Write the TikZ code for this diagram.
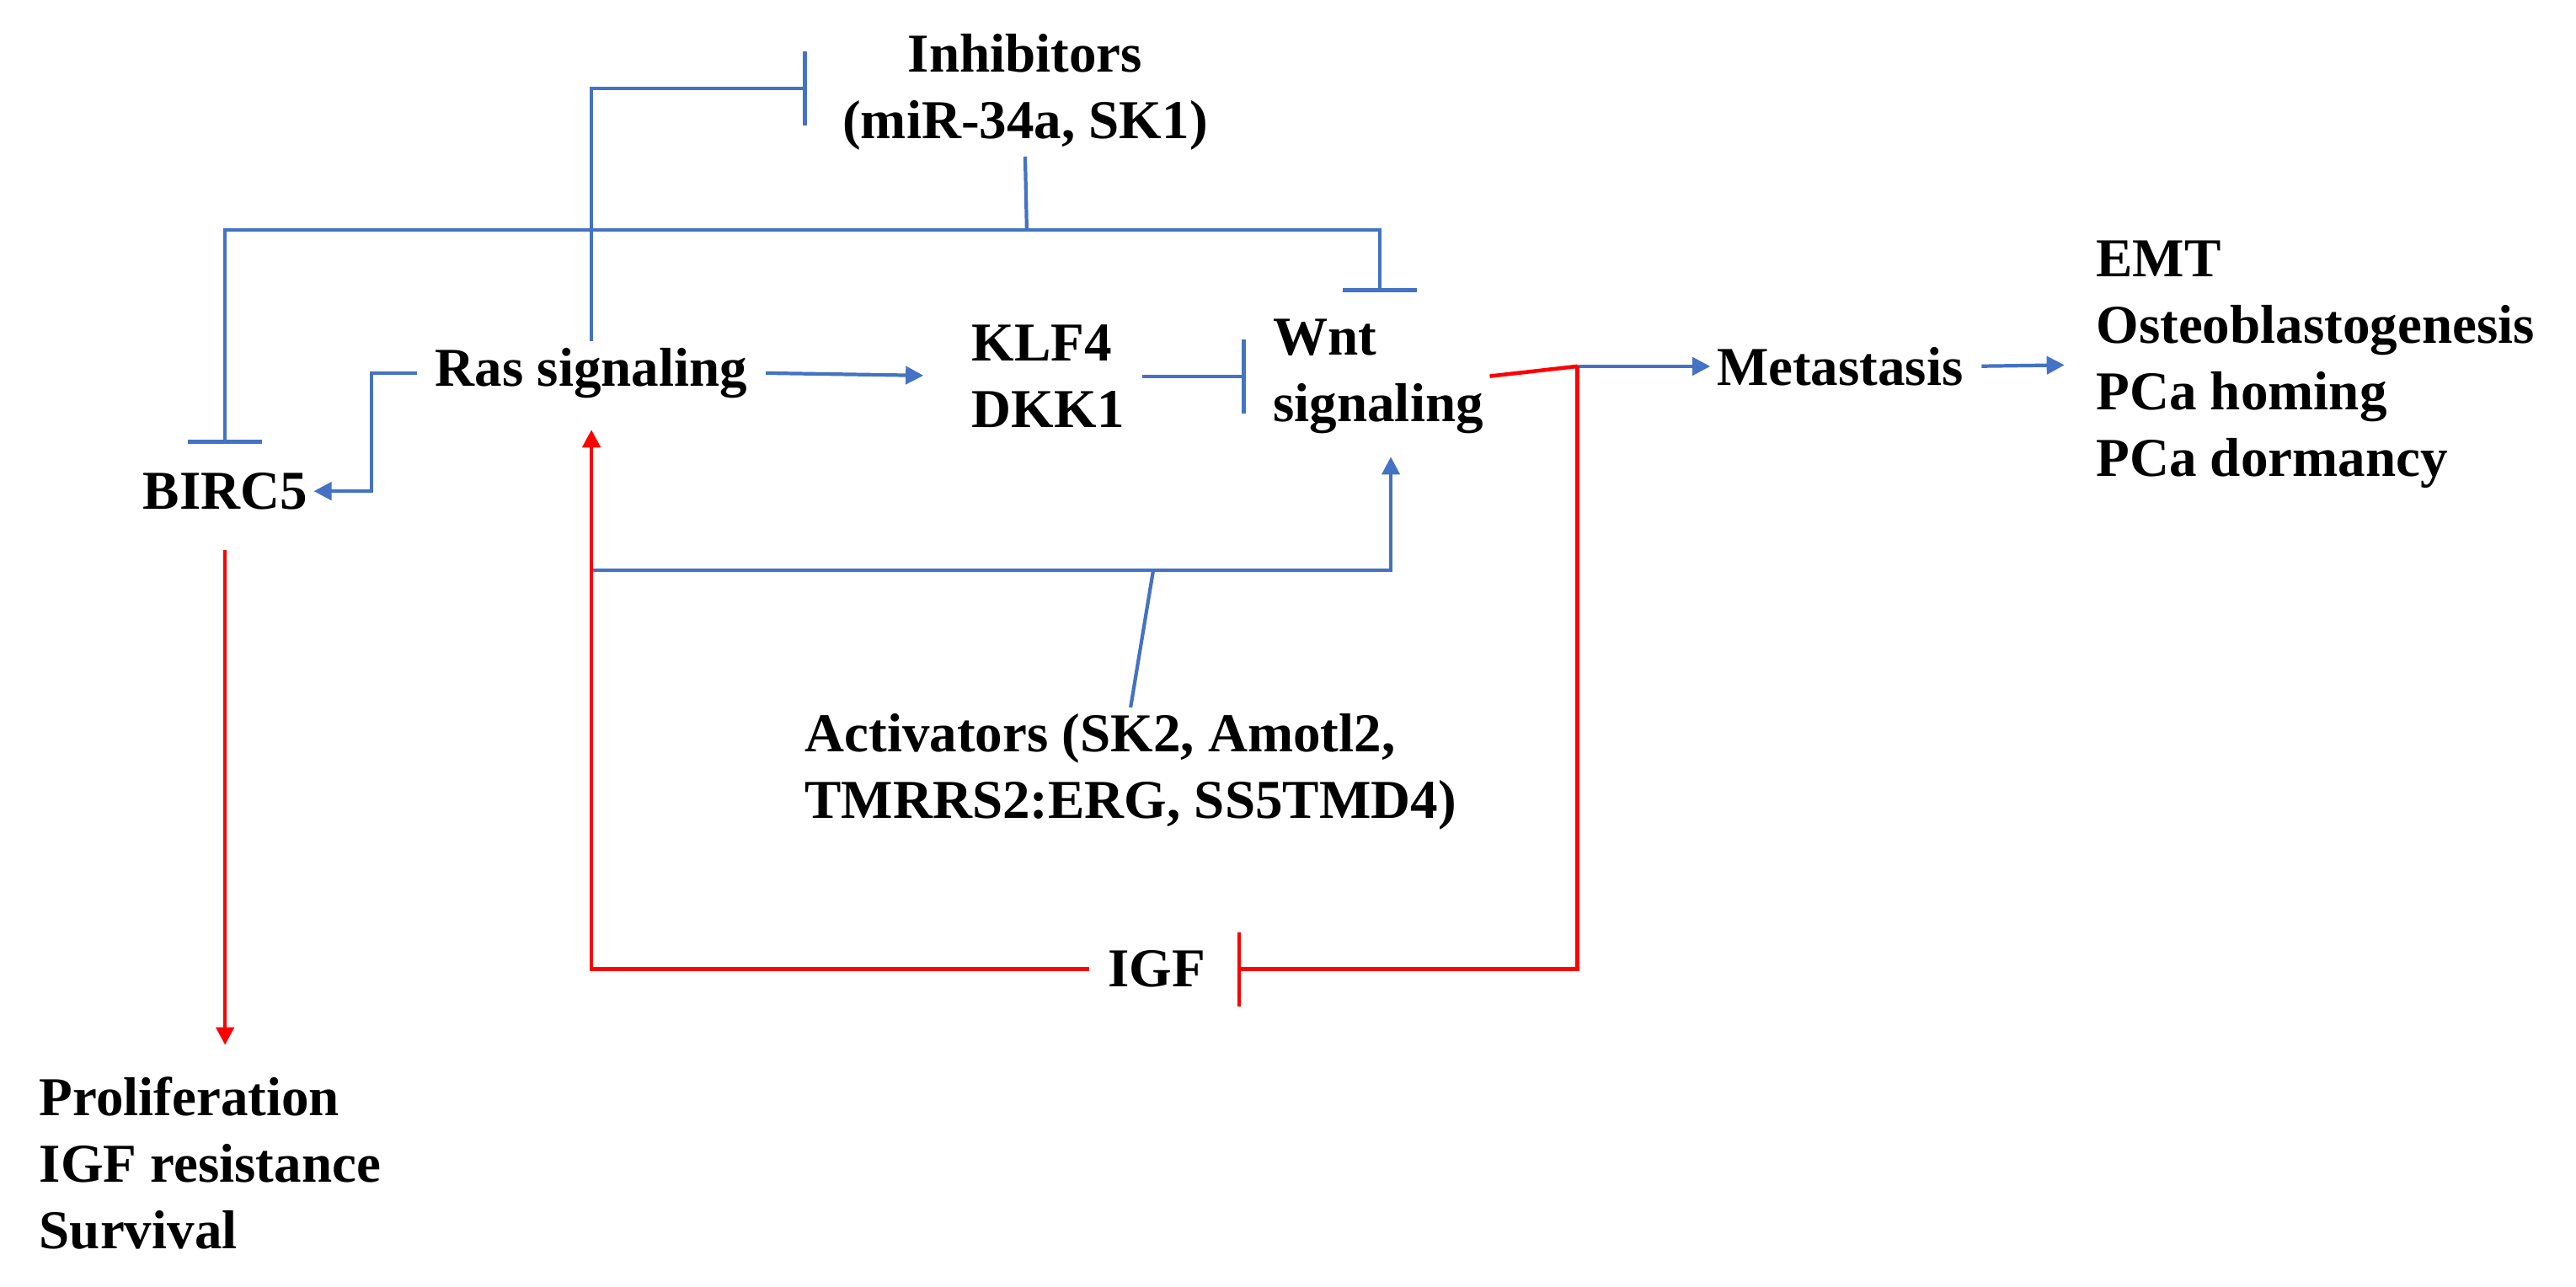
\documentclass[tikz,border=0pt]{standalone}
\usepackage{fontspec}
\setmainfont{Liberation Serif}
\usetikzlibrary{arrows.meta}
\definecolor{pblue}{RGB}{68,114,196}
\definecolor{pred}{RGB}{255,0,0}
\tikzset{>={Triangle[width=6pt,length=6pt]},
  lbl/.style={font=\fontsize{18.5}{22.5}\selectfont\bfseries,inner sep=2pt},
  act/.style={draw=pblue,line width=1.2pt,->},
  inh/.style={draw=pblue,line width=1.2pt,-{Bar[width=0.88cm,line width=1.4pt]}},
  ract/.style={draw=pred,line width=1.3pt,->},
  rinh/.style={draw=pred,line width=1.3pt,-{Bar[width=0.88cm,line width=1.4pt]}}}

\begin{document}
\begin{tikzpicture}[x=0.019503cm,y=-0.019503cm]
\useasboundingbox (0,0) rectangle (1568,783);
\node[lbl,align=center] (inh) at (624,56) {Inhibitors\\(miR-34a, SK1)};
\node[lbl] (ras) at (360,227) {Ras signaling};
\node[lbl,align=left] (klf) at (638,229) {KLF4\\DKK1};
\node[lbl,align=left,anchor=west] (wnt) at (771,229) {Wnt\\signaling};
\node[lbl] (birc) at (137,299) {BIRC5};
\node[lbl] (meta) at (1120,223) {Metastasis};
\node[lbl,align=left,anchor=west] (out) at (1272,222) {EMT\\Osteoblastogenesis\\PCa homing\\PCa dormancy};
\node[lbl,align=left,anchor=west] (prolif) at (20,708) {Proliferation\\IGF resistance\\Survival};
\node[lbl,align=left,anchor=west] (actv) at (486,470) {Activators (SK2, Amotl2,\\TMRRS2:ERG, SS5TMD4)};
\node[lbl] (igf) at (704,590) {IGF};

\coordinate (jI) at (625,140);
\coordinate (jA) at (702,347);
\coordinate (jM) at (960,223);
\coordinate (wntT) at (840,178);
\coordinate (bircT) at (137,270);

% inhibitors
\draw[inh] (ras.north) |- (491,54);
\draw[draw=pblue,line width=1.2pt] (inh.south) -- (jI);
\draw[inh] (jI) -| (bircT);
\draw[inh] (jI) -| (wntT);
% ras signaling
\draw[act,shorten <=4pt] (ras.west) -- (226,227) |- (birc.east);
\draw[act,shorten <=4pt,shorten >=0.5cm] (ras.east) -- (klf.west);
\draw[inh,shorten <=4pt,shorten >=0.25cm] (klf.east) -- (wnt.west);
% activators
\draw[draw=pblue,line width=1.2pt] (actv.north) -- (jA);
\draw[act,shorten >=0.2cm] (jA) -| ([xshift=0.15cm]wnt.south);
\draw[draw=pblue,line width=1.2pt] (jA) -- (360,347);
% metastasis
\draw[draw=pred,line width=1.3pt] (wnt.east) -- (jM);
\draw[act] (jM) -- (meta.west);
\draw[act,shorten <=4pt,shorten >=0.3cm] (meta.east) -- (out.west);
\draw[rinh,shorten >=0.3cm] (jM) |- (igf.east);
\draw[ract,shorten <=4pt,shorten >=0.3cm] (igf.west) -| (ras.south);
\draw[ract,shorten <=0.4cm,shorten >=0.3cm] (birc.south) -- (prolif.north -| birc.south);
\end{tikzpicture}
\end{document}
